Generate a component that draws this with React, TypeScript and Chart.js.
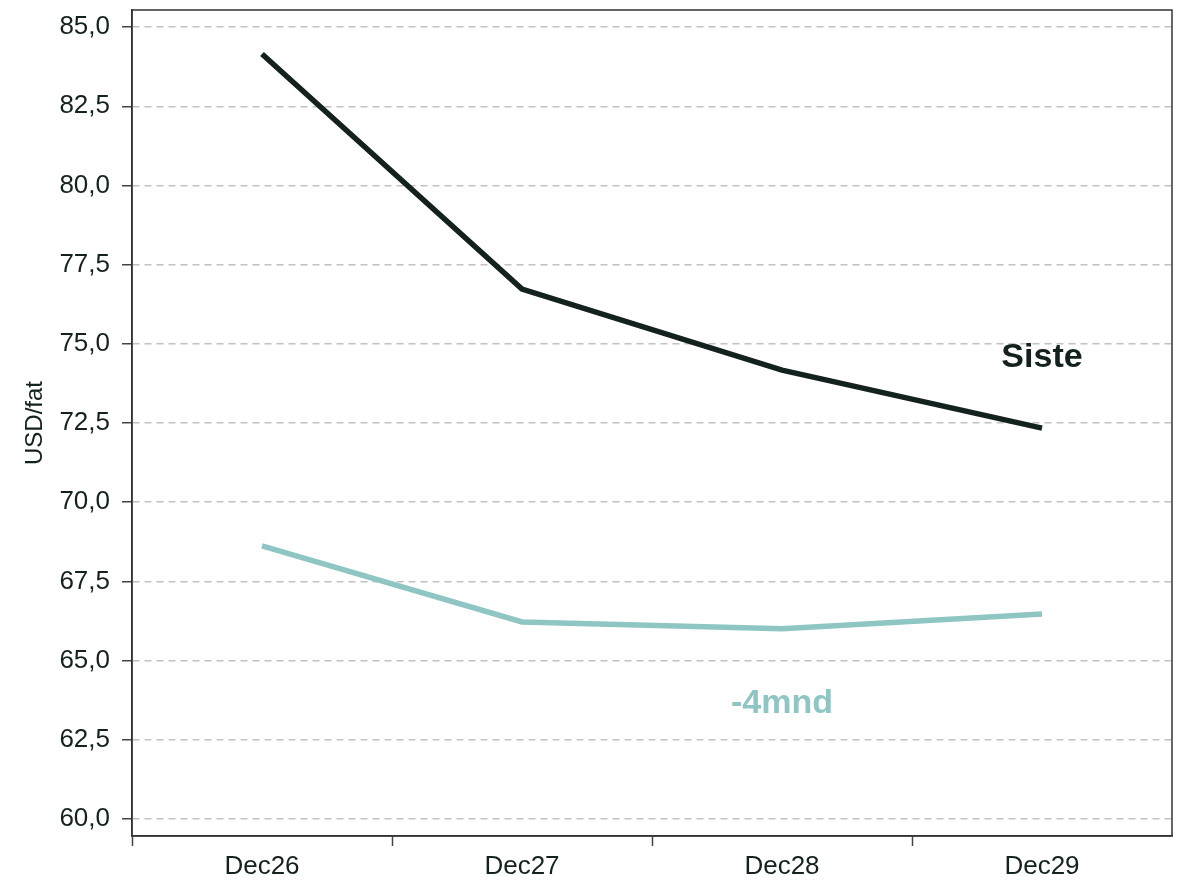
import React, { useEffect, useRef } from 'react';
import { Chart, registerables } from 'chart.js';

Chart.register(...registerables);

const categories = ['Dec26', 'Dec27', 'Dec28', 'Dec29'];
const sisteValues = [84.15, 76.73, 74.17, 72.34];
const minus4Values = [68.62, 66.22, 66.0, 66.47];
const yTickValues = [60, 62.5, 65, 67.5, 70, 72.5, 75, 77.5, 80, 82.5, 85];
const seriesNames = ['Siste', '-4mnd'];

const FONT = '"Liberation Sans", Arial, sans-serif';
const DARK = '#13211f';
const TEAL = '#8fc6c4';

const seriesLabelAnchors = [
  { xIndex: 3, yValue: 74.55, color: DARK },
  { xIndex: 2, yValue: 63.63, color: TEAL },
];

const fmt = (v: number) => v.toFixed(1).replace('.', ',');

export default function App() {
  const ref = useRef<HTMLCanvasElement | null>(null);

  useEffect(() => {
    document.body.style.margin = '0';
    const canvas = ref.current;
    if (!canvas) return;

    const framePlugin = {
      id: 'frame',
      beforeDatasetsDraw(chart: any) {
        const { ctx, chartArea } = chart;
        ctx.save();
        ctx.strokeStyle = '#333';
        ctx.lineWidth = 1.5;
        ctx.strokeRect(chartArea.left, chartArea.top, chartArea.right - chartArea.left, chartArea.bottom - chartArea.top);
        ctx.restore();
      },
    };

    const labelPlugin = {
      id: 'seriesLabels',
      afterDatasetsDraw(chart: any) {
        const { ctx, scales } = chart;
        ctx.save();
        ctx.font = `bold 34px ${FONT}`;
        ctx.textAlign = 'center';
        ctx.textBaseline = 'middle';
        seriesNames.forEach((name, i) => {
          const a = seriesLabelAnchors[i];
          ctx.fillStyle = a.color;
          ctx.fillText(name, scales.x.getPixelForValue(a.xIndex), scales.y.getPixelForValue(a.yValue));
        });
        ctx.restore();
      },
    };

    const chart = new Chart(canvas, {
      type: 'line',
      data: {
        labels: categories,
        datasets: [
          {
            label: seriesNames[0],
            data: sisteValues,
            borderColor: DARK,
            backgroundColor: DARK,
            borderWidth: 5.5,
            pointRadius: 0,
            tension: 0,
            borderCapStyle: 'butt',
          },
          {
            label: seriesNames[1],
            data: minus4Values,
            borderColor: TEAL,
            backgroundColor: TEAL,
            borderWidth: 5.5,
            pointRadius: 0,
            tension: 0,
            borderCapStyle: 'butt',
          },
        ],
      },
      options: {
        responsive: false,
        animation: false,
        devicePixelRatio: 1,
        layout: { padding: { top: 10, right: 14, left: 0, bottom: 0 } },
        plugins: {
          legend: { display: false },
          tooltip: { enabled: false },
          title: { display: false },
        },
        scales: {
          x: {
            type: 'category',
            offset: true,
            grid: {
              display: true,
              drawOnChartArea: false,
              drawTicks: true,
              tickLength: 10,
              offset: true,
              tickColor: (c: any) => (c.type === 'tick' ? '#444' : 'rgba(0,0,0,0)'),
              tickWidth: 1.5,
            },
            border: { display: true, color: '#333', width: 1.5 },
            ticks: {
              color: DARK,
              font: { family: FONT, size: 26 },
              padding: 5,
              maxRotation: 0,
              minRotation: 0,
              autoSkip: false,
            },
            afterFit(scale: any) {
              scale.height = 45;
              scale.paddingLeft = 0;
              scale.paddingRight = 0;
            },
          },
          y: {
            type: 'linear',
            min: 59.46,
            max: 85.54,
            afterBuildTicks(scale: any) {
              scale.ticks = yTickValues.map((v) => ({ value: v }));
            },
            grid: {
              color: '#c2c2c2',
              lineWidth: 1.5,
              drawTicks: true,
              tickLength: 10,
              tickColor: '#444',
              tickWidth: 1.5,
              tickBorderDash: [],
            },
            border: { display: true, color: '#333', width: 1.5, dash: [7, 5] },
            ticks: {
              color: DARK,
              font: { family: FONT, size: 26 },
              padding: 12,
              callback: (v: any) => fmt(Number(v)),
            },
            title: {
              display: true,
              text: 'USD/fat',
              color: DARK,
              font: { family: FONT, size: 24 },
              padding: { top: 21, bottom: 0 },
            },
            afterFit(scale: any) {
              scale.width = 132;
              scale.paddingTop = 0;
              scale.paddingBottom = 0;
            },
          },
        },
      },
      plugins: [framePlugin, labelPlugin],
    } as any);

    return () => chart.destroy();
  }, []);

  return (
    <div style={{ position: 'absolute', left: 0, top: 0, width: 1186, height: 881, background: '#fff' }}>
      <canvas ref={ref} width={1186} height={881} style={{ display: 'block' }} />
    </div>
  );
}
